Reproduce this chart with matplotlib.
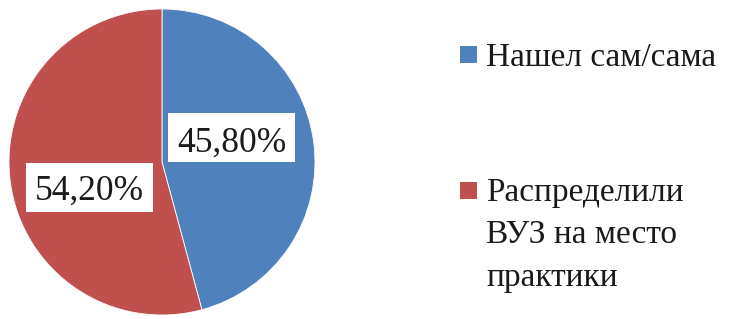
import matplotlib
matplotlib.use("Agg")
import matplotlib.pyplot as plt
from matplotlib.patches import Rectangle

categories = ["Нашел сам/сама", "Распределили\nВУЗ на место\nпрактики"]
values = [45.8, 54.2]
value_labels = ["45,80%", "54,20%"]
colors = ["#4F81BD", "#C0504D"]

plt.rcParams['font.family'] = ['Liberation Serif', 'DejaVu Serif']

W, H = 740, 319
fig = plt.figure(figsize=(W / 100, H / 100), dpi=100)
cx, cy, r = 162, 157, 153
ax = fig.add_axes([(cx - r) / W, (cy - r) / H, 2 * r / W, 2 * r / H])
wedges, _ = ax.pie(values, colors=colors, startangle=90, counterclock=False,
                   radius=1, wedgeprops=dict(edgecolor='white', linewidth=0.6))
ax.set_xlim(-1, 1)
ax.set_ylim(-1, 1)
ax.set_aspect('equal')
ax.axis('off')

# label boxes (centre in data units) and text baselines
box_c = [(0.454, 0.160), (-0.473, -0.167)]
base_y = [0.065, -0.248]
bw, bh = 127 / r, 49 / r
for (x, y), by, t in zip(box_c, base_y, value_labels):
    ax.add_patch(Rectangle((x - bw / 2, y - bh / 2), bw, bh, facecolor='white',
                           edgecolor='none', zorder=3))
    ax.text(x, by, t, ha='center', va='baseline', fontsize=25.5, color='#1a1a1a',
            zorder=4)

# legend
sq_cy = [54.5, 190]      # px from top, marker centre
first_base = [66, 200.7]  # px from top, first text baseline
line_step = 42.6
for sy, fb, lab, col in zip(sq_cy, first_base, categories, colors):
    fig.patches.append(Rectangle((460 / W, (H - sy - 8.5) / H), 17 / W, 17 / H,
                                 transform=fig.transFigure, facecolor=col, edgecolor='none'))
    for i, line in enumerate(lab.split('\n')):
        fig.text(486 / W, (H - fb - i * line_step) / H, line, fontsize=24,
                 va='baseline', ha='left', color='#1a1a1a')

fig.savefig("out.png", dpi=100)
